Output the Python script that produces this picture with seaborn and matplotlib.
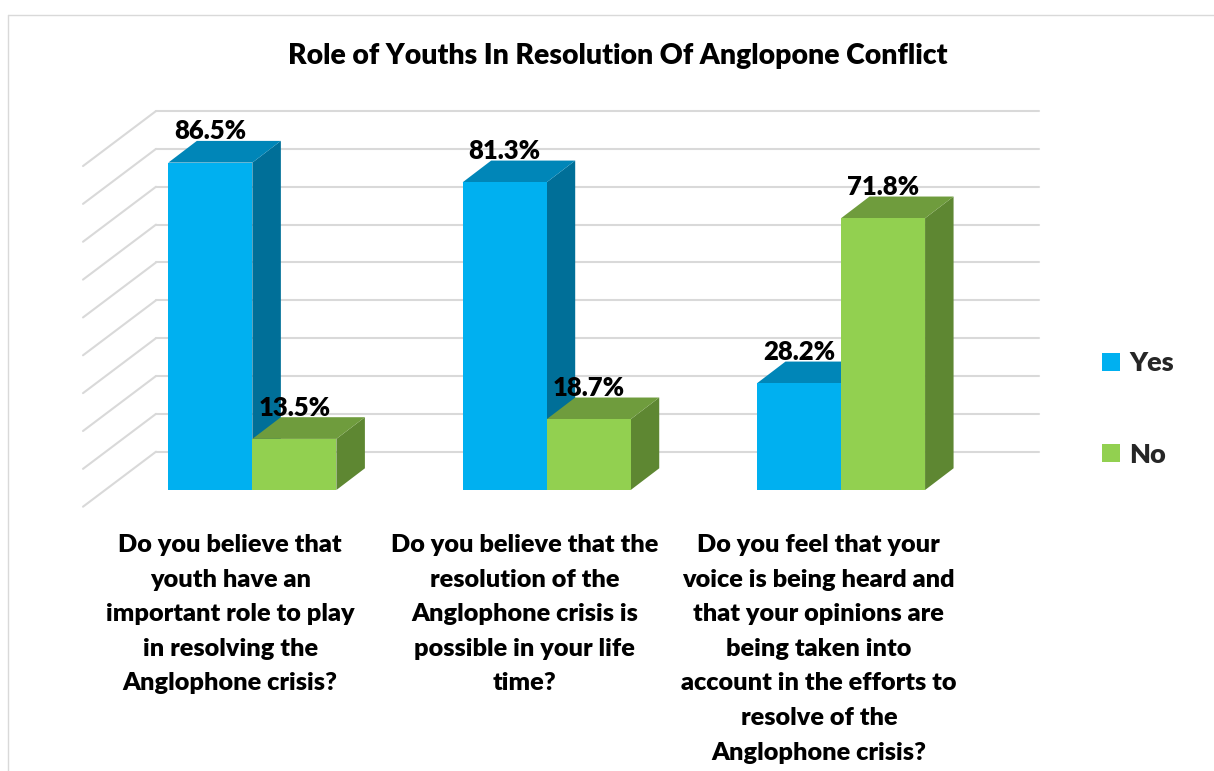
import numpy as np
import pandas as pd
import matplotlib
matplotlib.use("Agg")
import matplotlib.pyplot as plt
from matplotlib.patches import Polygon, Patch
from matplotlib.lines import Line2D
import seaborn as sns

# ---- data ----
questions = [
    "Do you believe that\nyouth have an\nimportant role to play\nin resolving the\nAnglophone crisis?",
    "Do you believe that the\nresolution of the\nAnglophone crisis is\npossible in your life\ntime?",
    "Do you feel that your\nvoice is being heard and\nthat your opinions are\nbeing taken into\naccount in the efforts to\nresolve of the\nAnglophone crisis?",
]
answers = ["Yes", "No"]
yes_values = [86.5, 81.3, 28.2]
no_values = [13.5, 18.7, 71.8]
grid_values = [0, 10, 20, 30, 40, 50, 60, 70, 80, 90]
title = "Role of Youths In Resolution Of Anglopone Conflict"

front_colors = {"Yes": "#00B0F0", "No": "#92D050"}
top_colors = {"Yes": "#0086B8", "No": "#6F9C3D"}
side_colors = {"Yes": "#006F98", "No": "#5E8732"}
grid_color = "#D9D9D9"
WEIGHT = "heavy"

df = pd.DataFrame({
    "question": questions * 2,
    "answer": ["Yes"] * len(questions) + ["No"] * len(questions),
    "value": yes_values + no_values,
})

sns.set_theme(style="white")
plt.rcParams["font.family"] = ["Lato", "DejaVu Sans"]
plt.rcParams["font.weight"] = WEIGHT

W, H = 1214, 771
fig = plt.figure(figsize=(W / 100, H / 100), dpi=100)
fig.patch.set_facecolor("white")

# front plane of the bars
ax = fig.add_axes([105.2 / W, 1 - 490 / H, 883 / W, 378.5 / H])
sns.barplot(data=df, x="question", y="value", hue="answer", hue_order=answers,
            palette=front_colors, width=0.571, saturation=1, linewidth=0,
            errorbar=None, legend=False, ax=ax)
ax.set_xlim(-0.5, 2.5)
ax.set_ylim(0, 100)
ax.axis("off")

# pixel -> data helpers for the oblique depth projection
p0 = ax.transData.transform((0, 0))
px_x = ax.transData.transform((1, 0))[0] - p0[0]
px_y = ax.transData.transform((0, 1))[1] - p0[1]


def off(dx_px, dy_px):
    return dx_px / px_x, dy_px / px_y


bdx, bdy = off(28.5, 21.7)      # bar depth
wdx, wdy = off(50.8, 38.3)      # back wall behind bar fronts
fdx, fdy = off(-22.2, -16.7)    # front edge of the floor

# back wall and side wall gridlines
x_lo, x_hi = ax.get_xlim()
for g in grid_values:
    ax.add_line(Line2D([x_lo + wdx, x_hi + wdx], [g + wdy, g + wdy],
                       color=grid_color, lw=1.5, zorder=0.5, clip_on=False))
    ax.add_line(Line2D([x_lo + wdx, x_lo + fdx], [g + wdy, g + fdy],
                       color=grid_color, lw=1.5, zorder=0.5, clip_on=False))

# 3-D faces for each bar, drawn left to right
bars = []
for answer, container in zip(answers, ax.containers):
    for patch, value in zip(container.patches, container.datavalues):
        bars.append((patch.get_x(), patch, answer, value))
bars.sort(key=lambda b: b[0])

for k, (x0, patch, answer, value) in enumerate(bars):
    w = patch.get_width()
    h = value
    z = 2 + k * 3
    side = Polygon([(x0 + w, 0), (x0 + w + bdx, bdy), (x0 + w + bdx, h + bdy), (x0 + w, h)],
                   closed=True, fc=side_colors[answer], ec="none", zorder=z, clip_on=False)
    top = Polygon([(x0, h), (x0 + w, h), (x0 + w + bdx, h + bdy), (x0 + bdx, h + bdy)],
                  closed=True, fc=top_colors[answer], ec="none", zorder=z + 1, clip_on=False)
    ax.add_patch(side)
    ax.add_patch(top)
    patch.set_zorder(z + 2)
    patch.set_clip_on(False)
    ax.text(x0 + w / 2, h + bdy + 1.5 / px_y, f"{value:.1f}%", ha="center", va="baseline",
            fontsize=18.5, fontweight=WEIGHT, color="black", zorder=100, clip_on=False)

# category labels under the floor's front edge
label_y = -(534 - 490) / px_y
for i, q in enumerate(questions):
    ax.text(i + fdx, label_y, q, ha="center", va="top", fontsize=18.2,
            fontweight=WEIGHT, linespacing=1.7, color="black", clip_on=False)

# title
fig.text(618 / W, 1 - 64 / H, title, ha="center", va="baseline",
         fontsize=20.4, fontweight=WEIGHT, color="black")

# legend
handles = [Patch(facecolor=front_colors[a], edgecolor="none") for a in answers]
fig.legend(handles, answers, loc="center left", bbox_to_anchor=(1102 / W, 1 - 409 / H),
           frameon=False, prop={"size": 19.5, "weight": WEIGHT},
           handlelength=0.65, handleheight=0.65, handletextpad=0.35,
           labelspacing=2.5, borderpad=0, borderaxespad=0)

# chart border
fig.add_artist(Line2D([8 / W, 1], [1 - 15 / H, 1 - 15 / H], transform=fig.transFigure,
                      color=grid_color, lw=1))
fig.add_artist(Line2D([8 / W, 8 / W], [0, 1 - 15 / H], transform=fig.transFigure,
                      color=grid_color, lw=1))

fig.savefig("out.png", dpi=100, facecolor="white")
